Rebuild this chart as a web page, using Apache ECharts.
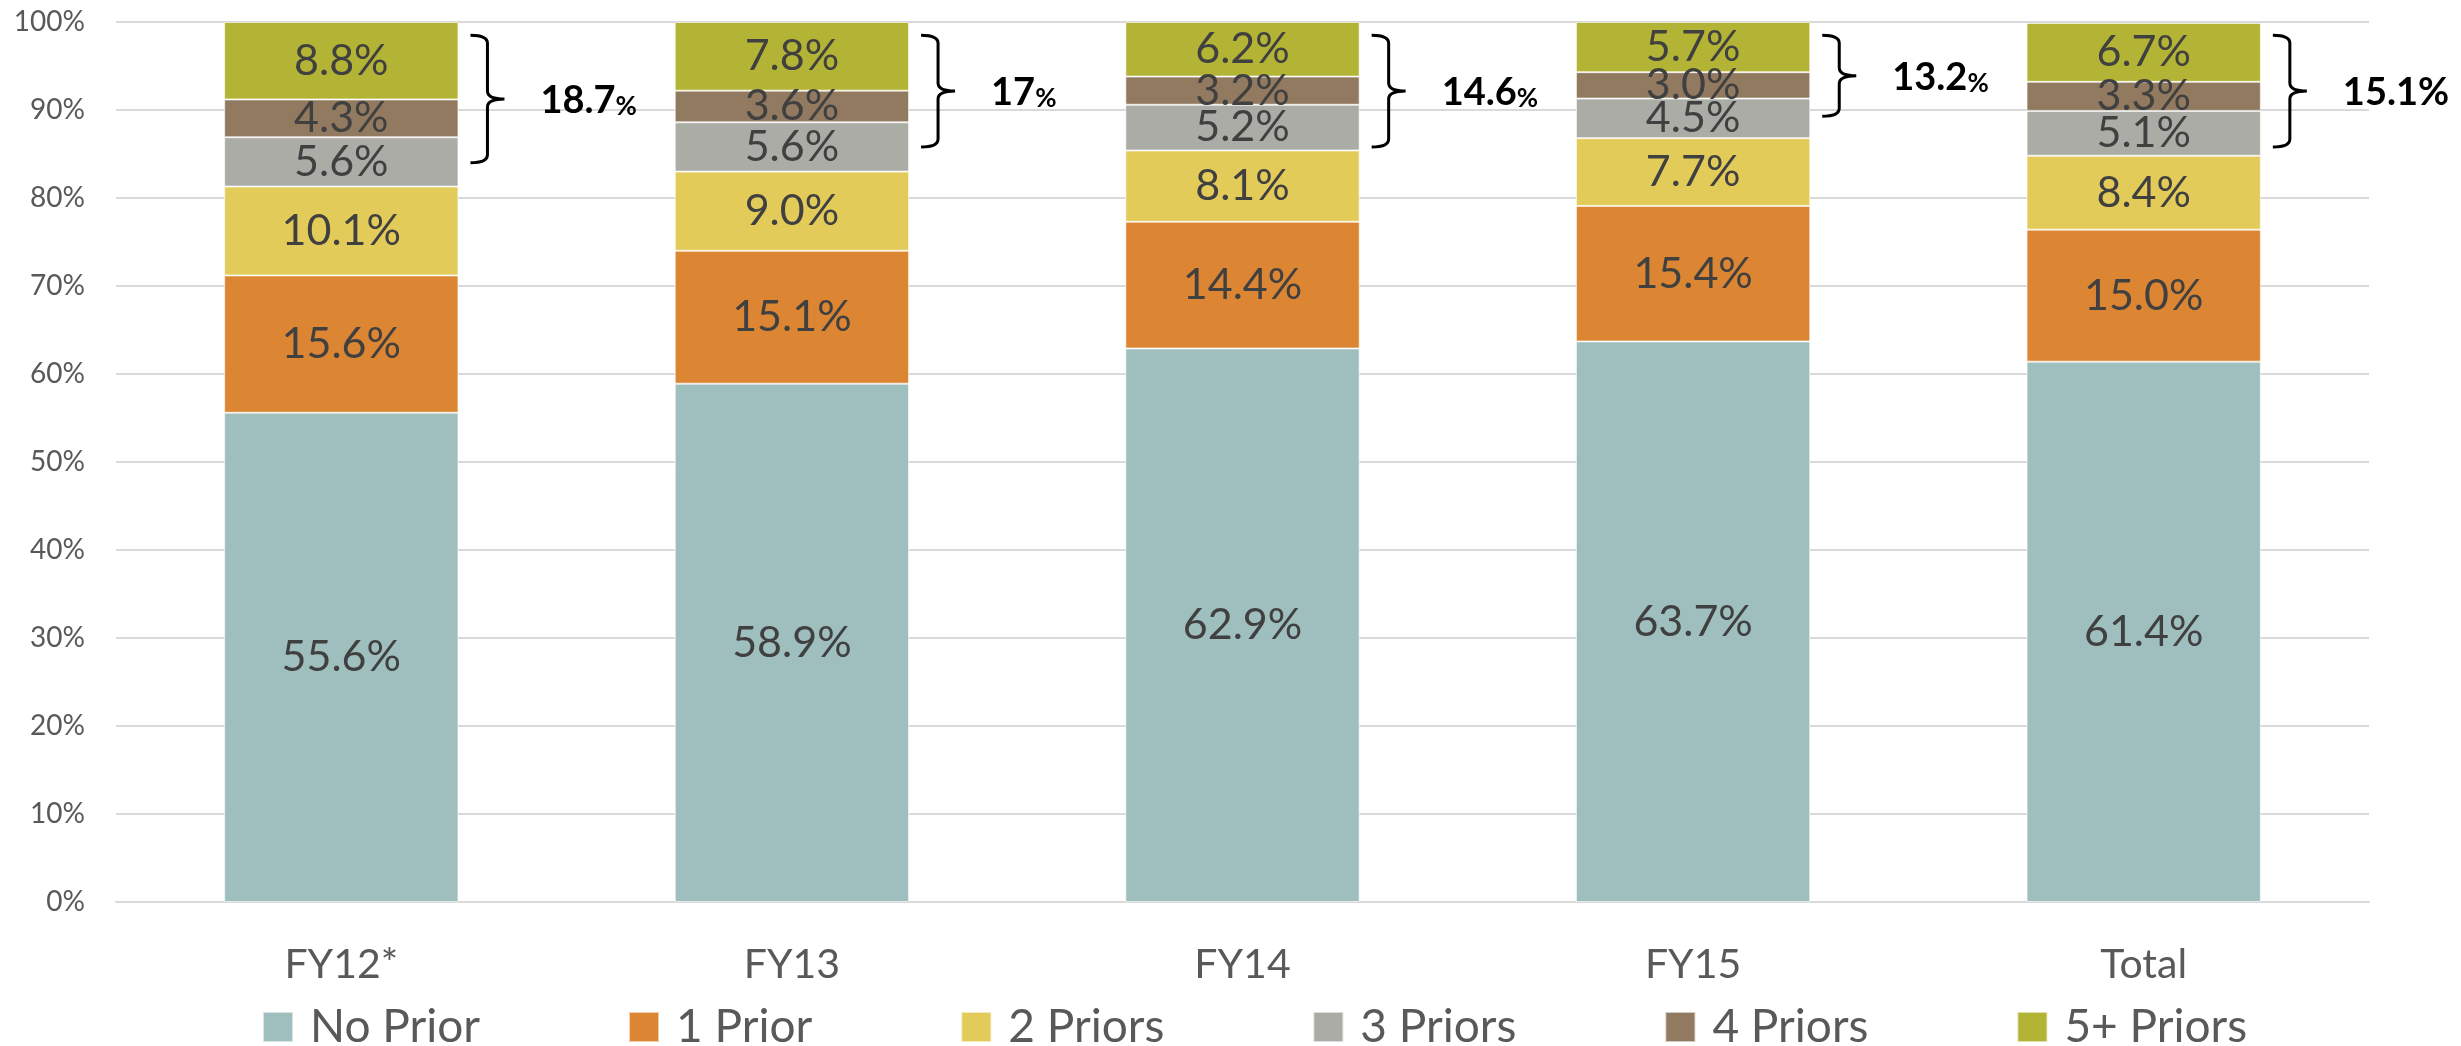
<!DOCTYPE html>
<html>
<head>
<meta charset="utf-8">
<title>Prior offenses by fiscal year</title>
<script src="https://cdn.jsdelivr.net/npm/echarts@6/dist/echarts.min.js"></script>
<style>
  html, body { margin: 0; padding: 0; background: #fff; }
  #chart { width: 2461px; height: 1046px; }
</style>
</head>
<body>
<div id="chart"></div>
<script>
const categories = ['FY12*', 'FY13', 'FY14', 'FY15', 'Total'];
const seriesNames = ['No Prior', '1 Prior', '2 Priors', '3 Priors', '4 Priors', '5+ Priors'];

const noPrior = [55.6, 58.9, 62.9, 63.7, 61.4];
const onePrior = [15.6, 15.1, 14.4, 15.4, 15.0];
const twoPriors = [10.1, 9.0, 8.1, 7.7, 8.4];
const threePriors = [5.6, 5.6, 5.2, 4.5, 5.1];
const fourPriors = [4.3, 3.6, 3.2, 3.0, 3.3];
const fivePlusPriors = [8.8, 7.8, 6.2, 5.7, 6.7];

// bracket annotations: 3+ priors combined, and where each bracket spans (in %)
const threePlusTotals = ['18.7', '17', '14.6', '13.2', '15.1'];
const braceTop = [98.5, 98.5, 98.5, 98.5, 98.5];
const braceBottom = [84.0, 85.8, 85.8, 89.3, 85.8];

const yTicks = [0, 10, 20, 30, 40, 50, 60, 70, 80, 90, 100];

const colors = ['#9fbfbe', '#dc8532', '#e3cb5a', '#acaca6', '#927a60', '#b3b335'];
const font = 'Lato, "Liberation Sans", sans-serif';

const chart = echarts.init(document.getElementById('chart'));

const stackSeries = [noPrior, onePrior, twoPriors, threePriors, fourPriors, fivePlusPriors].map((values, i) => ({
  name: seriesNames[i],
  type: 'bar',
  stack: 'priors',
  barWidth: '52%',
  data: values,
  itemStyle: { color: colors[i], borderColor: 'rgba(255,255,255,0.6)', borderWidth: 1 },
  label: {
    show: true,
    position: 'inside',
    formatter: (p) => `${p.value.toFixed(1)}%`,
    fontFamily: font,
    fontSize: 43,
    color: '#404040',
  },
  emphasis: { disabled: true },
}));

const renderBrace = (params, api) => {
  const idx = api.value(0);
  const top = api.coord([idx, api.value(1)]);
  const bottom = api.coord([idx, api.value(2)]);
  const band = api.size([1, 0])[0];
  const x0 = top[0] + band * 0.26 + 12;
  const xv = x0 + 17;
  const xt = xv + 17;
  const y0 = top[1];
  const y1 = bottom[1];
  const ym = (y0 + y1) / 2;
  const r = 8;
  const pathData =
    `M${x0},${y0} Q${xv},${y0} ${xv},${y0 + r} L${xv},${ym - r} Q${xv},${ym} ${xt},${ym} ` +
    `M${xt},${ym} Q${xv},${ym} ${xv},${ym + r} L${xv},${y1 - r} Q${xv},${y1} ${x0},${y1}`;
  const isTotal = categories[params.dataIndex] === 'Total';
  return {
    type: 'group',
    children: [
      {
        type: 'path',
        shape: { pathData },
        style: { fill: 'none', stroke: '#000', lineWidth: 3 },
      },
      {
        type: 'text',
        x: xt + 36,
        y: ym,
        style: {
          text: `{n|${threePlusTotals[params.dataIndex]}}{p|%}`,
          verticalAlign: 'middle',
          rich: {
            n: { fontFamily: font, fontWeight: 'bold', fontSize: 38, color: '#000', verticalAlign: 'bottom', lineHeight: 42 },
            p: { fontFamily: font, fontWeight: 'bold', fontSize: isTotal ? 38 : 26, color: '#000', verticalAlign: 'bottom', lineHeight: isTotal ? 42 : 36 },
          },
        },
      },
    ],
  };
};

const option = {
  animation: false,
  grid: { left: 116, right: 92, top: 22, bottom: 144 },
  legend: {
    data: seriesNames,
    icon: 'rect',
    left: 257,
    top: 999,
    itemWidth: 30,
    itemHeight: 30,
    itemGap: 148,
    selectedMode: false,
    textStyle: { fontFamily: font, fontSize: 46, color: '#595959', padding: [0, 0, 0, 12], lineHeight: 46 },
  },
  xAxis: {
    type: 'category',
    data: categories,
    axisTick: { show: false },
    axisLine: { lineStyle: { color: '#d9d9d9', width: 2 } },
    axisLabel: { fontFamily: font, fontSize: 41, color: '#595959', margin: 42, lineHeight: 41 },
  },
  yAxis: {
    type: 'value',
    min: yTicks[0],
    max: yTicks[yTicks.length - 1],
    interval: yTicks[1] - yTicks[0],
    axisLabel: { formatter: '{value}%', fontFamily: font, fontSize: 28, color: '#595959', margin: 31 },
    splitLine: { lineStyle: { color: '#d9d9d9', width: 2 } },
  },
  series: [
    ...stackSeries,
    {
      type: 'custom',
      renderItem: renderBrace,
      data: categories.map((c, i) => [i, braceTop[i], braceBottom[i]]),
      encode: { x: 0, y: [1, 2] },
      z: 5,
      silent: true,
    },
  ],
};

chart.setOption(option);
</script>
</body>
</html>
